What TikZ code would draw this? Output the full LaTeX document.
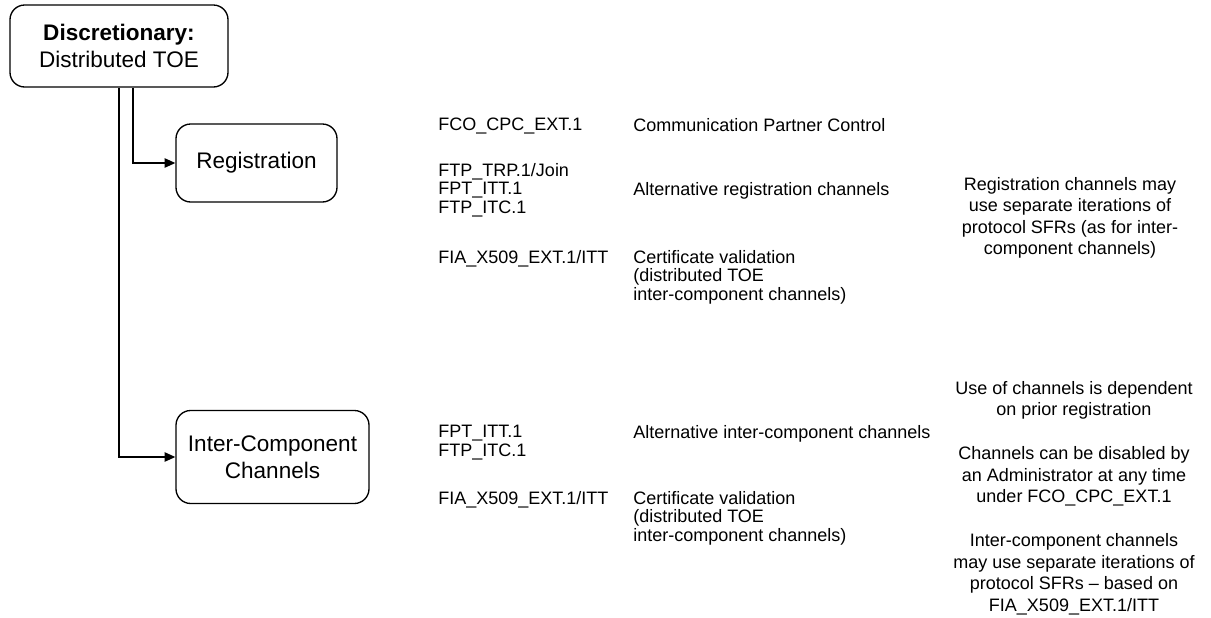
\documentclass[tikz,border=0pt]{standalone}
\usepackage{fontspec}
\setmainfont{Liberation Sans}
\usetikzlibrary{arrows.meta}
\tikzstyle{flecha} = [line width=1pt,-{Triangle[length=8pt,width=7pt]}]
\tikzstyle{caja} = [rectangle,
                    rounded corners=11pt,
                    draw=black,
                    line width=1pt,
                    align=center,
                    font=\fontsize{16.9}{20.3}\selectfont]
\tikzstyle{sfr} = [anchor=north west,
                   inner sep=0pt,
                   align=left,
                   font=\fontsize{13.5}{14}\selectfont]
\tikzstyle{nota} = [anchor=north,
                    inner sep=0pt,
                    align=center,
                    font=\fontsize{13.5}{16.1}\selectfont]

\begin{document}
\begin{tikzpicture}[x=0.75pt,y=-0.75pt]
        \useasboundingbox (0,0) rectangle (1211,618);

        \node (Discrecional) [caja, minimum width=163.5pt, minimum height=61.5pt] at (119,46)
            {\textbf{Discretionary:}\\Distributed TOE};
        \node (Registro) [caja, minimum width=120.75pt, minimum height=58.5pt] at (256.5,163)
            {Registration};
        \node (Intercomp) [caja, minimum width=144.75pt, minimum height=69.75pt] at (272.5,457)
            {Inter-Component\\Channels};

        % Registro
        \node (SFRa) [sfr] at (438,118) {FCO\_CPC\_EXT.1};
        \node (Desca) [sfr] at (633,118) {Communication Partner Control};
        \node (SFRb) [sfr] at (438,163) {FTP\_TRP.1/Join\\FPT\_ITT.1\\FTP\_ITC.1};
        \node (Descb) [sfr] at (633,182) {Alternative registration channels};
        \node (SFRc) [sfr] at (438,250) {FIA\_X509\_EXT.1/ITT};
        \node (Descc) [sfr] at (633,250) {Certificate validation\\(distributed TOE\\inter-component channels)};
        \node (Notaa) [nota] at (1070,177) {Registration channels may\\use separate iterations of\\protocol SFRs (as for inter-\\component channels)};

        % Intercomponente
        \node (SFRd) [sfr] at (438,425) {FPT\_ITT.1\\FTP\_ITC.1};
        \node (Descd) [sfr] at (633,425) {Alternative inter-component channels};
        \node (SFRe) [sfr] at (438,491) {FIA\_X509\_EXT.1/ITT};
        \node (Desce) [sfr] at (633,491) {Certificate validation\\(distributed TOE\\inter-component channels)};
        \node (Notab) [nota] at (1074,381) {Use of channels is dependent\\on prior registration\\[17pt]
            Channels can be disabled by\\an Administrator at any time\\under FCO\_CPC\_EXT.1\\[17pt]
            Inter-component channels\\may use separate iterations of\\protocol SFRs -- based on\\FIA\_X509\_EXT.1/ITT};

        \draw [flecha] ([xshift=10.5pt]Discrecional.south) |- (Registro.west);
        \draw [flecha] (Discrecional.south) |- (Intercomp.west);
    \end{tikzpicture}
\end{document}
